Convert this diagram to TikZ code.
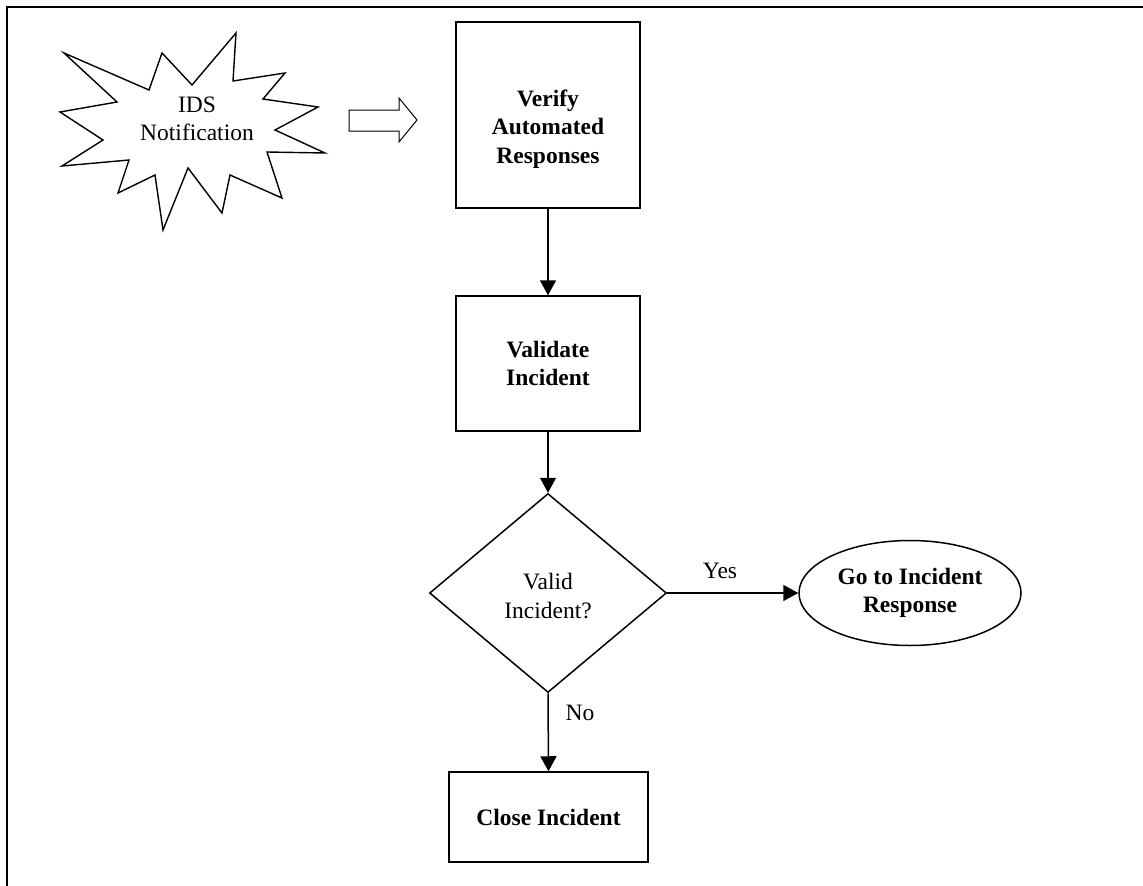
\documentclass[tikz,border=0pt]{standalone}
\usepackage{fontspec}
\setmainfont{Liberation Serif}
\usetikzlibrary{arrows.meta,shapes.geometric}
\begin{document}
\begin{tikzpicture}[x=1pt,y=-1pt,
  every node/.style={font=\fontsize{23.5}{28.5}\selectfont, align=center, inner sep=0pt},
  stepbox/.style={draw, line width=1.5pt, rectangle},
  boldtxt/.style={font=\fontsize{23.5}{28.5}\selectfont\bfseries},
  conn/.style={line width=1.5pt, -{Triangle[length=15pt,width=16pt]}},
  outline/.style={line width=1.4pt, line join=miter}]
\useasboundingbox (0,0) rectangle (1143,886);
% frame
\draw[line width=2pt] (7,886) -- (7,6.5) -- (1143,6.5);
% starburst
\draw[outline] (64,53) -- (149,90) -- (162,53) -- (192,85) -- (236,33) -- (233,81)
  -- (285,73) -- (263,99) -- (318,107) -- (275,130) -- (325,153) -- (267,152)
  -- (282,198) -- (230,175) -- (222,213) -- (188,168) -- (163,230) -- (155,175)
  -- (118,193) -- (129,160) -- (62,166) -- (103,140) -- (60,112) -- (117,102) -- cycle;
\node (ids) at (197,119) {IDS\\Notification};
% hollow block arrow
\draw[line width=1pt] (349,110) -- (399,110) -- (399,98) -- (417,120) -- (399,142)
  -- (399,131) -- (349,131) -- cycle;
% boxes
\node[stepbox, minimum width=184pt, minimum height=186pt] (verify) at (548,115) {};
\node[boldtxt] (verifyt) at (548,129) {Verify\\Automated\\Responses};
\node[stepbox, minimum width=184pt, minimum height=135pt, boldtxt] (validate) at (548,363.5) {Validate\\Incident};
\node[draw, diamond, line width=1.5pt, minimum width=237pt, minimum height=199pt, aspect=1.19] (valid) at (548,593) {};
\node (validt) at (548,596) {Valid\\Incident?};
\node[draw, ellipse, line width=1.5pt, minimum width=222pt, minimum height=105pt, boldtxt] (goto) at (910,593) {Go to Incident\\Response};
\node[stepbox, minimum width=199pt, minimum height=90pt, boldtxt] (close) at (548.5,817) {Close Incident};
% connectors
\draw[conn] (verify.south) -- (validate.north);
\draw[conn] (validate.south) -- (valid.north);
\draw[conn] (valid.east) -- (goto.west);
\draw[conn] (valid.south) -- (close.north);
\node (yes) at (720,571) {Yes};
\node (no) at (580,713) {No};
\end{tikzpicture}
\end{document}
